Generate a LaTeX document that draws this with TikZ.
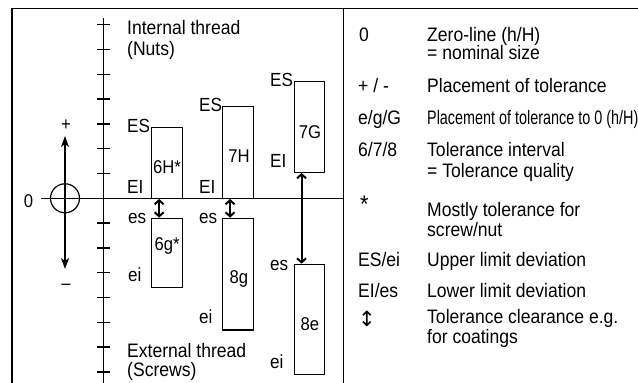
\documentclass[tikz,border=0pt]{standalone}
\usepackage{fontspec}
\setmainfont{Liberation Sans}[FakeStretch=0.9]
\newfontfamily\symfont{DejaVu Sans}
\usetikzlibrary{arrows.meta}
\begin{document}
\begin{tikzpicture}[x=1pt,y=-1pt,
  txt/.style={font=\fontsize{19.5}{23}\selectfont, inner sep=0pt, anchor=base west},
  lbl/.style={font=\fontsize{19}{23}\selectfont, inner sep=0pt, anchor=base west},
  inbox/.style={font=\fontsize{18.5}{22}\selectfont, inner sep=0pt, anchor=base},
  tolbox/.style={draw, line width=1.3pt, inner sep=0pt, minimum width=30.6pt},
  frame/.style={line width=1.5pt},
  axis/.style={line width=1.3pt},
  clr/.style={line width=2pt, {Straight Barb[length=4pt,width=9pt]}-{Straight Barb[length=4pt,width=9pt]}},
  pm/.style={line width=1.3pt, {Stealth[length=11pt,width=8pt,inset=3pt]}-{Stealth[length=11pt,width=8pt,inset=3pt]}}
]
\useasboundingbox (0,0) rectangle (638,383);

% frame
\coordinate (fbl) at (12,383);
\coordinate (ftl) at (12,8.3);
\coordinate (ftr) at (638,8.3);
\coordinate (dvt) at (343.3,8.3);
\coordinate (dvb) at (343.3,383);
\draw[frame] (fbl) -- (ftl) -- (ftr);
\draw[frame] (dvt) -- (dvb);

% vertical scale
\coordinate (axt) at (103.5,18);
\coordinate (axb) at (103.5,383);
\draw[axis] (axt) -- (axb);
\foreach \k in {1,...,7} {
  \draw[axis] (97,{198.3-24.8*\k}) -- (110,{198.3-24.8*\k});
  \draw[axis] (97,{198.3+24.8*\k}) -- (110,{198.3+24.8*\k});
}

% zero line and circle
\coordinate (z0) at (41,198.3);
\coordinate (z1) at (343.3,198.3);
\draw[axis] (z0) -- (z1);
\node[draw, circle, line width=1.2pt, minimum size=29pt, inner sep=0pt] (circ) at (65,198.3) {};
\coordinate (pup) at (65,136);
\coordinate (pdn) at (65,269);
\draw[pm] (pup) -- (pdn);
\node[inbox] (zero) at (28.5,207) {0};
\node[inbox] (plus) at (66,130) {+};
\node[inbox] (minus) at (66,289) {–};

% thread labels
\node[txt] (intl1) at (127,34) {Internal thread};
\node[txt] (intl2) at (127,55) {(Nuts)};
\node[txt] (extl1) at (127,357) {External thread};
\node[txt] (extl2) at (127,376) {(Screws)};

% tolerance boxes
\node[tolbox, minimum height=70.6pt] (b6H) at (167.1,163) {};
\node[tolbox, minimum height=91.6pt] (b7H) at (238,152.5) {};
\node[tolbox, minimum height=90.6pt] (b7G) at (309.5,127) {};
\node[tolbox, minimum height=69pt] (b6g) at (167.1,252.8) {};
\node[tolbox, minimum height=111.7pt] (b8g) at (238,274.15) {};
\node[tolbox, minimum height=110pt] (b8e) at (309.5,319.3) {};

\node[inbox] (t6H) at (167.1,173) {6H*};
\node[inbox] (t7H) at (239,162.7) {7H};
\node[inbox] (t7G) at (310,138) {7G};
\node[inbox] (t6g) at (167.1,250) {6g*};
\node[inbox] (t8g) at (239,283) {8g};
\node[inbox] (t8e) at (310,330) {8e};

% deviation labels
\node[lbl] (es6H) at (127,132.7) {ES};
\node[lbl] (ei6H) at (127,193) {EI};
\node[lbl] (es7H) at (199,111.7) {ES};
\node[lbl] (ei7H) at (199,193) {EI};
\node[lbl] (es7G) at (270,86) {ES};
\node[lbl] (ei7G) at (270,167) {EI};
\node[lbl] (es6g) at (128,223) {es};
\node[lbl] (ei6g) at (128,281) {ei};
\node[lbl] (es8g) at (199,223) {es};
\node[lbl] (ei8g) at (199,323) {ei};
\node[lbl] (es8e) at (270,270) {es};
\node[lbl] (ei8e) at (270,368) {ei};

% clearance arrows
\draw[clr] ([xshift=8pt]b6H.south west) -- ([xshift=8pt]b6g.north west);
\draw[clr] ([xshift=8pt]b7H.south west) -- ([xshift=8pt]b8g.north west);
\draw[clr] ([xshift=8pt]b7G.south west) -- ([xshift=8pt]b8e.north west);

% legend
\node[txt] (k1) at (359,41) {0};
\node[txt] (v1a) at (427,41) {Zero-line (h/H)};
\node[txt] (v1b) at (427,59) {= nominal size};
\node[txt] (k2) at (358,92) {+ / -};
\node[txt] (v2) at (427,92) {Placement of tolerance};
\node[txt] (k3) at (358,124) {e/g/G};
\node[txt] (v3) at (427,124) {\scalebox{0.82}[1]{Placement of tolerance to 0 (h/H)}};
\node[txt] (k4) at (358,156) {6/7/8};
\node[txt] (v4a) at (427,156) {Tolerance interval};
\node[txt] (v4b) at (427,177) {= Tolerance quality};
\node[txt, font=\fontsize{24}{26}\selectfont] (k5) at (360,212) {*};
\node[txt] (v5a) at (427,216) {Mostly tolerance for};
\node[txt] (v5b) at (427,236) {screw/nut};
\node[txt] (k6) at (358,266) {ES/ei};
\node[txt] (v6) at (427,266) {Upper limit deviation};
\node[txt] (k7) at (358,297) {EI/es};
\node[txt] (v7) at (427,297) {Lower limit deviation};
\node[txt, font=\symfont\fontsize{21}{23}\selectfont] (k8) at (358,326) {↕};
\node[txt] (v8a) at (427,323) {Tolerance clearance e.g.};
\node[txt] (v8b) at (427,343) {for coatings};
\end{tikzpicture}
\end{document}
